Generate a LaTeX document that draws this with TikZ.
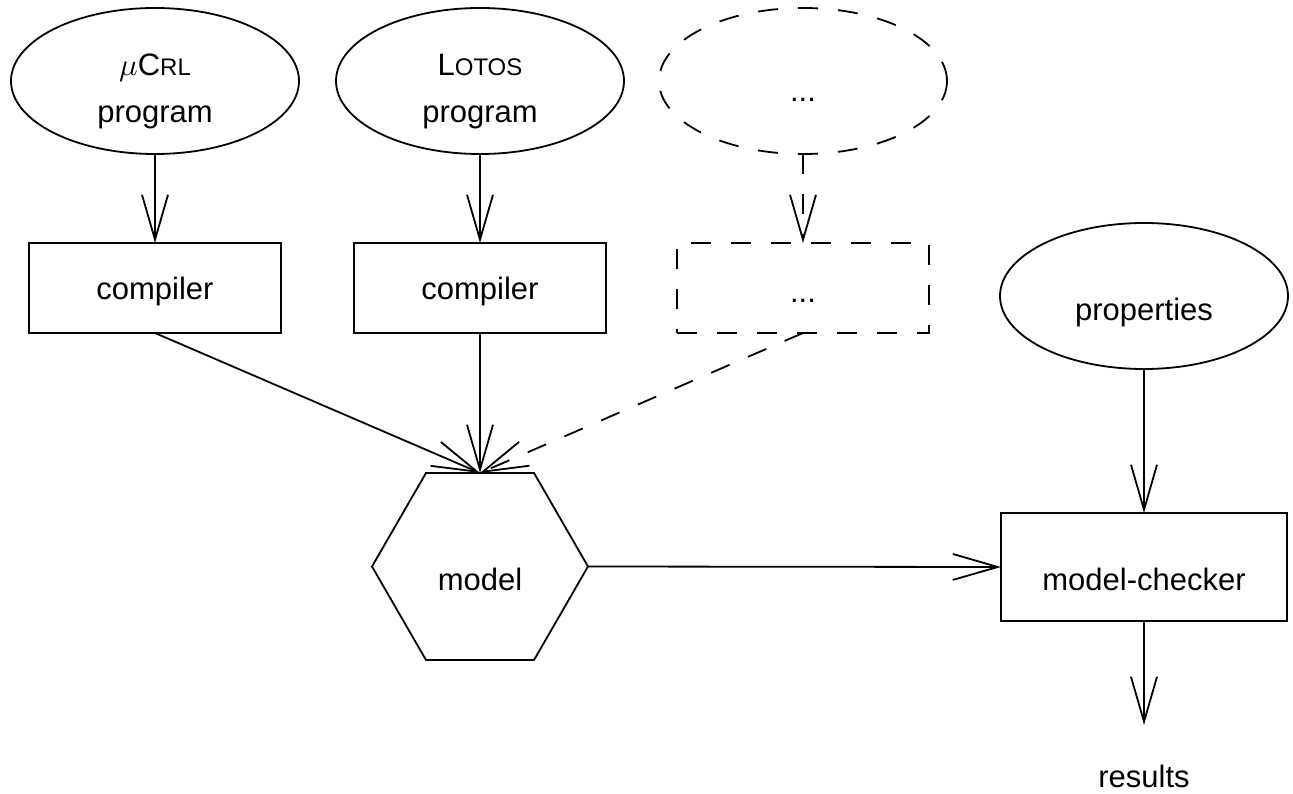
\documentclass[tikz,border=0pt]{standalone}
\usepackage{graphicx}
\usepackage{fontspec}
\setmainfont{Liberation Sans}
\usetikzlibrary{shapes.geometric,arrows.meta}
\newcommand\smallcap[1]{{\fontsize{24}{28}\selectfont #1}}
% math-italic mu at the size of the surrounding 31pt text
\newcommand\bigmu{\scalebox{3.1}{\normalsize$\mu$}}
\begin{document}
\begin{tikzpicture}[x=1pt,y=-1pt,
  every node/.style={inner sep=0pt,outer sep=0pt},
  base/.style={draw,line width=1.8pt},
  oval/.style={base,ellipse,minimum width=288pt,minimum height=146pt},
  stepbox/.style={base,rectangle,minimum width=252pt,minimum height=90pt},
  hexa/.style={base,regular polygon,regular polygon sides=6,minimum size=216pt},
  dashpat/.style={dash pattern=on 20pt off 20pt},
  txt/.style={anchor=base,font=\fontsize{31}{37}\selectfont},
  flow/.style={line width=1.8pt,-{Straight Barb[length=45pt,width=26pt,line join=miter]}}
]
\path[use as bounding box] (0,0) rectangle (1293,794);

% source programs
\node[oval] (srcA) at (155,81) {};
\node[oval] (srcB) at (480,81) {};
\node[oval,dashpat] (srcC) at (803,81) {};
\node[txt] (srcAt1) at (155,76) {\bigmu C\smallcap{RL}};
\node[txt] (srcAt2) at (155,123) {program};
\node[txt] (srcBt1) at (480,76) {L\smallcap{OTOS}};
\node[txt] (srcBt2) at (480,123) {program};
\node[txt] (srcCt) at (803,102) {...};

% compilers
\node[stepbox] (compA) at (155,288) {};
\node[stepbox] (compB) at (480,288) {};
\node[stepbox,dashpat] (compC) at (803,288) {};
\node[txt] (compAt) at (155,300) {compiler};
\node[txt] (compBt) at (480,300) {compiler};
\node[txt] (compCt) at (803,302) {...};

% model
\node[hexa] (model) at (480,566.5) {};
\node[txt] (modelt) at (480,590) {model};

% properties and model checker
\node[oval] (props) at (1144,296) {};
\node[txt] (propst) at (1144,320) {properties};
\node[base,rectangle,minimum width=286pt,minimum height=108pt] (checker) at (1144,567) {};
\node[txt] (checkert) at (1144,590) {model-checker};
\coordinate (resend) at (1144,725);
\node[txt] (results) at (1144,787) {results};

% connectors
\draw[flow] (srcA.south) -- (compA.north);
\draw[flow] (srcB.south) -- (compB.north);
\draw[flow,dashpat] (srcC.south) -- (compC.north);
\draw[flow] (compA.south) -- (model.north);
\draw[flow] (compB.south) -- (model.north);
\draw[flow,dashpat] (compC.south) -- (model.north);
\draw[flow] (model.east) -- (checker.west);
\draw[flow] (props.south) -- (checker.north);
\draw[flow] (checker.south) -- (resend);
\end{tikzpicture}
\end{document}
